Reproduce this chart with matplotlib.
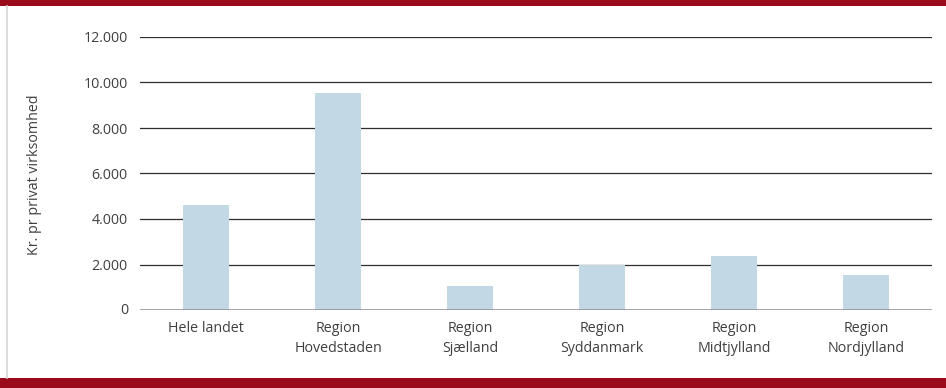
import matplotlib.pyplot as plt
from matplotlib.patches import Rectangle
from matplotlib.lines import Line2D

categories = ["Hele landet", "Region\nHovedstaden", "Region\nSjælland",
              "Region\nSyddanmark", "Region\nMidtjylland", "Region\nNordjylland"]
values = [4620, 9560, 1050, 1980, 2370, 1540]
yticks = [0, 2000, 4000, 6000, 8000, 10000, 12000]
ytick_labels = ["0", "2.000", "4.000", "6.000", "8.000", "10.000", "12.000"]
ylabel = "Kr. pr privat virksomhed"

plt.rcParams["font.family"] = ["Open Sans", "DejaVu Sans"]
text_color = "#404040"
red = "#9b0a1b"
fs = 10.3

fig = plt.figure(figsize=(9.46, 3.88), dpi=100)
W, H = 946, 388

# red bands top and bottom, thin grey line at left
fig.add_artist(Rectangle((0, 1 - 6 / H), 1, 6 / H, transform=fig.transFigure,
                         color=red, lw=0))
fig.add_artist(Rectangle((0, 0), 1, 10 / H, transform=fig.transFigure,
                         color=red, lw=0))
fig.add_artist(Line2D([6.5 / W, 6.5 / W], [10 / H, 1 - 6 / H],
                      transform=fig.transFigure, color="#d6d6d6", lw=1.2))

ax = fig.add_axes([140 / W, (H - 310) / H, 792 / W, 273 / H])
x = range(len(categories))
ax.bar(x, values, width=0.35, color="#c2d9e5", zorder=3)

ax.set_xlim(-0.5, len(categories) - 0.5)
ax.set_ylim(0, 12000)
ax.set_yticks(yticks[1:])
ax.set_yticklabels(ytick_labels[1:])
for y in yticks[1:]:
    ax.axhline(y, color="#2e2e2e", lw=0.9, zorder=1)
ax.axhline(0, color="#8a8a8a", lw=1.8, zorder=4)
ax.text(-12 / 792, 0, "0", transform=ax.get_yaxis_transform(), ha="right",
        va="center", fontsize=fs, color=text_color)

ax.set_xticks(list(x))
ax.set_xticklabels(categories, fontsize=fs, color=text_color, linespacing=1.45)
ax.tick_params(axis="both", length=0, colors=text_color, labelsize=fs)
ax.tick_params(axis="y", pad=9)
ax.tick_params(axis="x", pad=8)
for s in ax.spines.values():
    s.set_visible(False)

fig.text(35 / W, 1 - 175 / H, ylabel, rotation=90, ha="center", va="center",
         fontsize=fs, color=text_color)

fig.savefig("out.png", dpi=100)
